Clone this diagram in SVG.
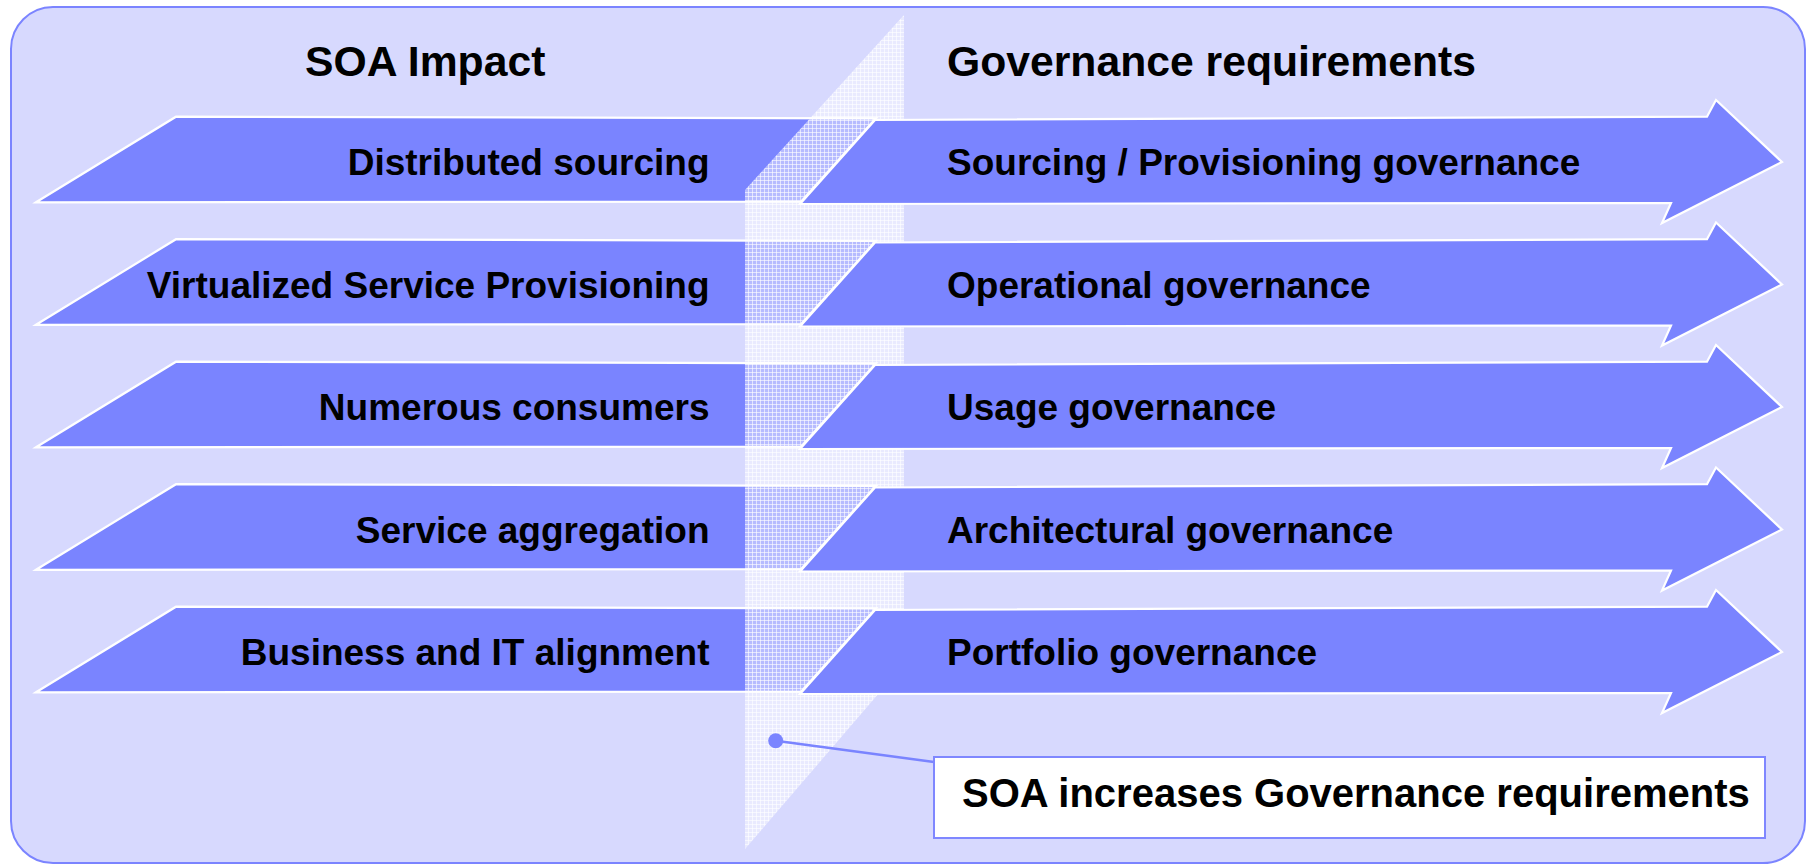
<svg xmlns="http://www.w3.org/2000/svg" width="1806" height="865" viewBox="0 0 1806 865">
<style>
.panel{fill:#D7D9FE;stroke:#7B84FF;stroke-width:2}
.arr{fill:#7A84FF;stroke:#FFFFFF;stroke-width:2.2;stroke-linejoin:miter}
.t{font-family:"Liberation Sans",Arial,Helvetica,sans-serif;font-weight:bold;fill:#000}
.h{font-size:42.7px}
.b{font-size:37px}
.c{font-size:40px}
.conn{stroke:#7A84FF;stroke-width:2.5;fill:none}
</style>
<defs>
<pattern id="chk" width="4" height="4" patternUnits="userSpaceOnUse">
<rect width="4" height="4" fill="#FFFFFF" fill-opacity="0.45"/>
<path d="M0 0.5H4M0.5 0V4" stroke="#FFFFFF" stroke-opacity="0.6" stroke-width="1"/>
</pattern>
<polygon id="larrow" class="arr" points="36,202.3 176,116.7 876,118.3 801,201.7"/>
<polygon id="rarrow" class="arr" points="800,204 875,120 1707,116.7 1716,100 1782,162 1662,223 1671,203"/>
</defs>

<g id="background">
<rect class="panel" x="11" y="7" width="1794" height="856" rx="42" ry="42"/>
</g>

<g id="left-arrows">
<g id="impact-1"><use href="#larrow"/></g>
<g id="impact-2" transform="translate(0,122.5)"><use href="#larrow"/></g>
<g id="impact-3" transform="translate(0,245)"><use href="#larrow"/></g>
<g id="impact-4" transform="translate(0,367.5)"><use href="#larrow"/></g>
<g id="impact-5" transform="translate(0,490)"><use href="#larrow"/></g>
</g>

<g id="band">
<polygon points="904,15 904,664 745,849 745,190" fill="url(#chk)"/>
</g>

<g id="right-arrows">
<g id="gov-1"><use href="#rarrow"/></g>
<g id="gov-2" transform="translate(0,122.5)"><use href="#rarrow"/></g>
<g id="gov-3" transform="translate(0,245)"><use href="#rarrow"/></g>
<g id="gov-4" transform="translate(0,367.5)"><use href="#rarrow"/></g>
<g id="gov-5" transform="translate(0,490)"><use href="#rarrow"/></g>
</g>

<g id="headers">
<text class="t h" x="305" y="76">SOA Impact</text>
<text class="t h" x="947" y="76">Governance requirements</text>
</g>

<g id="impact-labels">
<text class="t b" x="709.5" y="175" text-anchor="end">Distributed sourcing</text>
<text class="t b" x="709.5" y="297.5" text-anchor="end">Virtualized Service Provisioning</text>
<text class="t b" x="709.5" y="420" text-anchor="end">Numerous consumers</text>
<text class="t b" x="709.5" y="542.5" text-anchor="end">Service aggregation</text>
<text class="t b" x="709.5" y="665" text-anchor="end">Business and IT alignment</text>
</g>

<g id="gov-labels">
<text class="t b" x="947" y="175">Sourcing / Provisioning governance</text>
<text class="t b" x="947" y="297.5">Operational governance</text>
<text class="t b" x="947" y="420">Usage governance</text>
<text class="t b" x="947" y="542.5">Architectural governance</text>
<text class="t b" x="947" y="665">Portfolio governance</text>
</g>

<g id="connectors">
<line class="conn" x1="775.7" y1="740.7" x2="934" y2="762"/>
<circle cx="775.7" cy="740.7" r="7.5" fill="#7A84FF"/>
</g>

<g id="callout">
<rect x="934" y="757" width="831" height="81" fill="#FFFFFF" stroke="#7F87FF" stroke-width="2"/>
<text class="t c" x="962" y="807">SOA increases Governance requirements</text>
</g>
</svg>
